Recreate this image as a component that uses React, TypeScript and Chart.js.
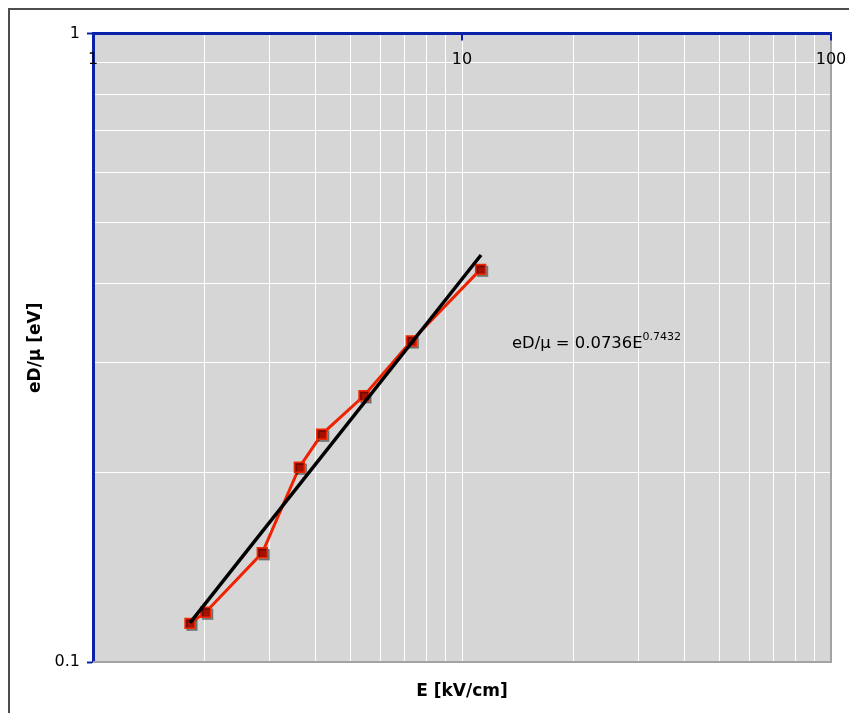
import React, { useEffect, useRef } from 'react';
import { Chart, registerables } from 'chart.js';

Chart.register(...registerables);

// Data
const eValues = [1.832, 2.02, 2.876, 3.624, 4.168, 5.425, 7.29, 11.23];
const eDmuValues = [0.1152, 0.12, 0.1492, 0.2041, 0.2303, 0.2652, 0.3241, 0.4214];
const trendE = [1.832, 11.26];
const trendEDmu = [0.1154, 0.4442];
const xTickLabels = [1, 10, 100];
const yTickLabels = [0.1, 1];
const xGridValues = [1, 2, 3, 4, 5, 6, 7, 8, 9, 10, 20, 30, 40, 50, 60, 70, 80, 90, 100];
const yGridValues = [0.1, 0.2, 0.3, 0.4, 0.5, 0.6, 0.7, 0.8, 0.9, 1];
const xTitle = 'E [kV/cm]';
const yTitle = 'eD/μ [eV]';
const eqText = 'eD/μ = 0.0736E';
const eqExponent = '0.7432';

const BLUE = '#0a22aa';
const FONT = '"DejaVu Sans", Verdana, sans-serif';

const isLabelled = (v: number, list: number[]) => list.some((t) => Math.abs(t - v) < 1e-9 * Math.max(1, t));

const decor = {
  id: 'decor',
  beforeDraw(chart: any) {
    const { ctx, chartArea: a } = chart;
    ctx.save();
    ctx.fillStyle = '#d6d6d6';
    ctx.fillRect(a.left, a.top, a.right - a.left, a.bottom - a.top);
    ctx.restore();
  },
  beforeDatasetsDraw(chart: any) {
    const { ctx, chartArea: a } = chart;
    ctx.save();
    ctx.strokeStyle = '#a3a3a3';
    ctx.lineWidth = 2;
    ctx.beginPath();
    ctx.moveTo(a.left, a.bottom);
    ctx.lineTo(a.right, a.bottom);
    ctx.lineTo(a.right, a.top);
    ctx.stroke();
    ctx.restore();
  },
  beforeDatasetDraw(chart: any, args: any) {
    if (args.index === 1) {
      const ctx = chart.ctx;
      ctx.save();
      ctx.shadowColor = 'rgba(0,0,0,0.33)';
      ctx.shadowOffsetX = 2;
      ctx.shadowOffsetY = 2;
      ctx.shadowBlur = 0;
    }
  },
  afterDatasetDraw(chart: any, args: any) {
    if (args.index === 1) chart.ctx.restore();
  },
  afterDraw(chart: any) {
    const { ctx, chartArea: a } = chart;
    const xs = chart.scales.x;
    ctx.save();
    // x tick labels (inside, below the top axis) and inner tick marks
    ctx.font = `16px ${FONT}`;
    ctx.fillStyle = '#000';
    ctx.textAlign = 'center';
    ctx.textBaseline = 'middle';
    ctx.strokeStyle = BLUE;
    ctx.lineWidth = 2;
    for (const v of xTickLabels) {
      const px = xs.getPixelForValue(v);
      ctx.beginPath();
      ctx.moveTo(px, a.top);
      ctx.lineTo(px, a.top + 7);
      ctx.stroke();
      ctx.fillText(String(v), px, a.top + 26.5);
    }
    // axis titles
    ctx.font = `bold 17px ${FONT}`;
    ctx.fillText(xTitle, (a.left + a.right) / 2, a.bottom + 30);
    ctx.save();
    ctx.translate(26, (a.top + a.bottom) / 2);
    ctx.rotate(-Math.PI / 2);
    ctx.fillText(yTitle, 0, 0);
    ctx.restore();
    // trendline equation
    ctx.textAlign = 'left';
    ctx.textBaseline = 'alphabetic';
    ctx.font = `16.4px ${FONT}`;
    const ex = a.left + 419;
    const ey = a.top + 314.5;
    ctx.fillText(eqText, ex, ey);
    const w = ctx.measureText(eqText).width;
    ctx.font = `11px ${FONT}`;
    ctx.fillText(eqExponent, ex + w, ey - 8);
    ctx.restore();
  },
};

export default function App() {
  const ref = useRef<HTMLCanvasElement | null>(null);
  useEffect(() => {
    if (!ref.current) return;
    const points = eValues.map((x, i) => ({ x, y: eDmuValues[i] }));
    const trend = trendE.map((x, i) => ({ x, y: trendEDmu[i] }));
    const chart = new Chart(ref.current, {
      type: 'scatter',
      data: {
        datasets: [
          {
            label: 'eD/mu line',
            data: points,
            showLine: true,
            borderColor: '#ee2200',
            borderWidth: 3,
            pointRadius: 0,
            tension: 0,
            order: 3,
          },
          {
            label: 'eD/mu',
            data: points,
            showLine: false,
            pointStyle: 'rect',
            pointRadius: 7,
            backgroundColor: '#a51000',
            borderColor: '#f02800',
            borderWidth: 1.5,
            order: 2,
          },
          {
            label: 'trend',
            data: trend,
            showLine: true,
            borderColor: '#000000',
            borderWidth: 3.5,
            pointRadius: 0,
            tension: 0,
            order: 1,
          },
        ],
      } as any,
      options: {
        animation: false,
        responsive: false,
        events: [],
        layout: { padding: { left: 0, top: 0, right: 18, bottom: 51 } },
        plugins: { legend: { display: false }, tooltip: { enabled: false } },
        scales: {
          x: {
            type: 'logarithmic',
            position: 'top',
            min: 1,
            max: 100,
            afterBuildTicks: (s: any) => {
              s.ticks = xGridValues.map((v) => ({ value: v }));
            },
            afterFit: (s: any) => {
              s.height = 23.5;
            },
            ticks: { display: false, autoSkip: false },
            grid: { color: '#ffffff', lineWidth: 1, drawTicks: false },
            border: { display: true, color: BLUE, width: 3 },
          },
          y: {
            type: 'logarithmic',
            position: 'left',
            min: 0.1,
            max: 1,
            afterBuildTicks: (s: any) => {
              s.ticks = yGridValues.map((v) => ({ value: v }));
            },
            afterFit: (s: any) => {
              s.width = 83;
            },
            ticks: {
              autoSkip: false,
              padding: 7,
              color: '#000',
              font: { family: FONT, size: 16 },
              callback: (v: any) => (isLabelled(Number(v), yTickLabels) ? String(Number(v)) : ''),
            },
            grid: {
              color: '#ffffff',
              lineWidth: 1,
              tickLength: 6,
              tickWidth: 2,
              tickColor: (c: any) => (c.tick && isLabelled(c.tick.value, yTickLabels) ? BLUE : 'rgba(0,0,0,0)'),
            },
            border: { display: true, color: BLUE, width: 3 },
          },
        },
      } as any,
      plugins: [decor],
    });
    return () => chart.destroy();
  }, []);

  return (
    <div style={{ position: 'fixed', left: 0, top: 0, right: 0, bottom: 0, overflow: 'hidden', background: '#fff' }}>
      <div
        style={{
          position: 'absolute',
          left: 8,
          top: 8,
          width: 900,
          height: 800,
          border: '2px solid #4d4d4d',
        }}
      >
        <canvas ref={ref} width={839} height={703} style={{ display: 'block' }} />
      </div>
    </div>
  );
}
